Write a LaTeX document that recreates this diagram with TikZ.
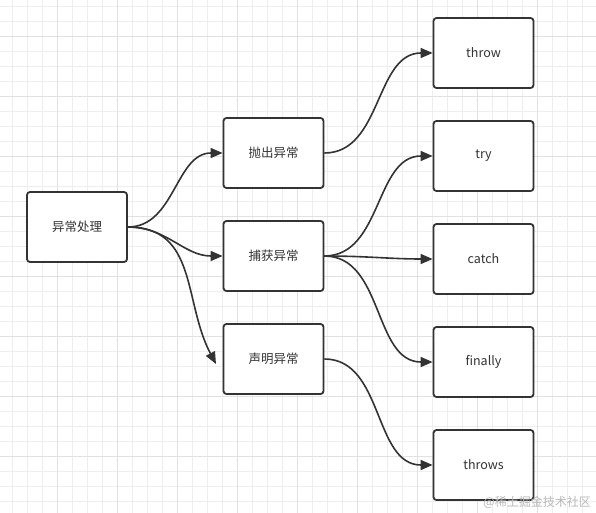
\documentclass[tikz,border=0pt]{standalone}
\usepackage{fontspec}
\setmainfont{Noto Sans CJK SC}
\usetikzlibrary{arrows.meta}
\definecolor{minorgrid}{HTML}{EEEEEE}
\definecolor{majorgrid}{HTML}{E1E1E1}
\definecolor{ink}{HTML}{333333}
\begin{document}
\begin{tikzpicture}[x=1pt,y=1pt,
  box/.style={draw=ink, line width=1.8pt, rounded corners=3pt, fill=white,
    minimum width=100pt, minimum height=70pt, inner sep=0pt,
    font=\fontsize{12.5}{15}\selectfont, text=ink},
  link/.style={draw=ink, line width=1.6pt, -{Triangle[length=12pt,width=10pt]}},
  minorline/.style={draw=minorgrid, line width=0.9pt},
  majorline/.style={draw=majorgrid, line width=0.9pt}
]
\useasboundingbox (0,0) rectangle (596,-513);
\fill[white] (0,0) rectangle (596,-513);
% grid
\foreach \x in {12.5,27.5,...,596} \draw[minorline] (\x,0) -- (\x,-513);
\foreach \y in {6,21,...,513} \draw[minorline] (0,-\y) -- (596,-\y);
\foreach \x in {57.5,117.5,...,596} \draw[majorline] (\x,0) -- (\x,-513);
\foreach \y in {36,96,...,513} \draw[majorline] (0,-\y) -- (596,-\y);

% nodes
\node[box] (root) at (77,-227) {异常处理};
\node[box] (raise) at (273.5,-153) {抛出异常};
\node[box] (catchx) at (273.5,-256) {捕获异常};
\node[box] (decl) at (273.5,-359) {声明异常};
\node[box] (throw) at (483.5,-53) {throw};
\node[box] (try) at (483.5,-156) {try};
\node[box] (catch) at (483.5,-259) {catch};
\node[box] (finally) at (483.5,-362) {finally};
\node[box] (throws) at (483.5,-465) {throws};

\coordinate (declend) at (216,-364);

% connectors
\draw[link] (root.east) to[out=0,in=118,looseness=1.1] (declend);
\draw[link] (root.east) to[out=0,in=180] (raise.west);
\draw[link] (root.east) to[out=0,in=180] (catchx.west);
\draw[link] (raise.east) to[out=0,in=180] (throw.west);
\draw[link] (catchx.east) to[out=0,in=180] (try.west);
\draw[link] (catchx.east) to[out=0,in=180] (catch.west);
\draw[link] (catchx.east) to[out=0,in=180] (finally.west);
\draw[link] (decl.east) to[out=0,in=180] (throws.west);

% watermark
\node[font=\fontsize{12}{14}\selectfont, text=black!28, anchor=east, inner sep=0pt] (wm) at (591,-502) {@稀土掘金技术社区};
\end{tikzpicture}
\end{document}
